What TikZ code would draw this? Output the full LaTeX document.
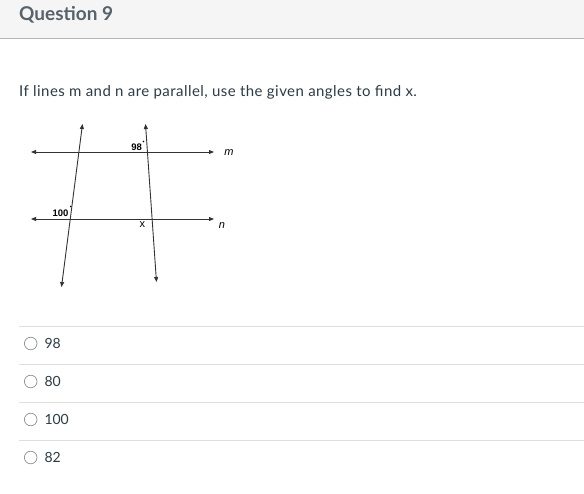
\documentclass[tikz,border=0pt]{standalone}
\usepackage{fontspec}
\setmainfont{Lato}
\newfontfamily\arialfont{Liberation Sans}
\newfontfamily\widelato[LetterSpace=3]{Lato}
\usetikzlibrary{arrows.meta}
\definecolor{hdrbg}{HTML}{F5F5F5}
\definecolor{hdrline}{HTML}{B4B8BB}
\definecolor{txtgray}{HTML}{2D3B45}
\definecolor{sepgray}{HTML}{DCDFE1}
\definecolor{radiogray}{HTML}{8B9095}
\tikzset{>={Triangle[length=5pt,width=4pt]},
  geoline/.style={<->,line width=0.9pt,black!80},
  geolabel/.style={inner sep=0pt,font=\arialfont\bfseries\fontsize{9.5}{11}\selectfont},
  choice/.style={anchor=west,inner sep=0pt,text=txtgray,font=\fontsize{14}{16}\selectfont}}

\begin{document}
\begin{tikzpicture}[x=1pt,y=-1pt]
      \useasboundingbox (0,0) rectangle (584,493);
      % header
      \fill[hdrbg] (0,0) rectangle (584,38);
      \draw[hdrline,line width=1pt] (0,38.3) -- (584,38.3);
      \node[anchor=base west,inner sep=0pt,text=txtgray!80,font=\bfseries\fontsize{19}{21}\selectfont] (title) at (19,20.7) {Question 9};
      \node[anchor=base west,inner sep=0pt,text=txtgray,font=\widelato\fontsize{15}{17}\selectfont] (question) at (19,96) {If lines m and n are parallel, use the given angles to find x.};
      % the parallel lines and the transversals
      \coordinate (mL) at (31,152);
      \coordinate (mR) at (214,152);
      \coordinate (nL) at (31,219);
      \coordinate (nR) at (214,219);
      \coordinate (tTop) at (82.5,124);
      \coordinate (tBot) at (61.5,287);
      \coordinate (sTop) at (145.5,124);
      \coordinate (sBot) at (156.5,282);
      \draw[geoline] (mL) -- (mR);
      \draw[geoline] (nL) -- (nR);
      \draw[geoline] (tTop) -- (tBot);
      \draw[geoline] (sTop) -- (sBot);
      \node[font=\arialfont\itshape\fontsize{11}{13}\selectfont,inner sep=0pt] (labm) at (229,153) {m};
      \node[font=\arialfont\itshape\fontsize{11}{13}\selectfont,inner sep=0pt] (labn) at (222,226) {n};
      \node[geolabel] (ang98) at (136.7,147) {98};
      \fill[black] (143.5,141.5) circle (0.9);
      \node[geolabel] (ang100) at (60.5,213.5) {100};
      \fill[black] (70.7,206.5) circle (0.9);
      \node[font=\arialfont\fontsize{11}{13}\selectfont,inner sep=0pt] (labx) at (142.3,225) {x};
      % answer choices
      \foreach \y in {326.5,364.3,402.3,440.3}
        \draw[sepgray,line width=1pt] (19,\y) -- (584,\y);
      \foreach \val [count=\i] in {98,80,100,82} {
        \draw[radiogray,line width=0.7pt] (30.7,{343.5+38*(\i-1)}) circle (6.3);
        \node[choice] (opt\i) at (44.3,{343.5+38*(\i-1)}) {\val};
      }
\end{tikzpicture}
\end{document}
